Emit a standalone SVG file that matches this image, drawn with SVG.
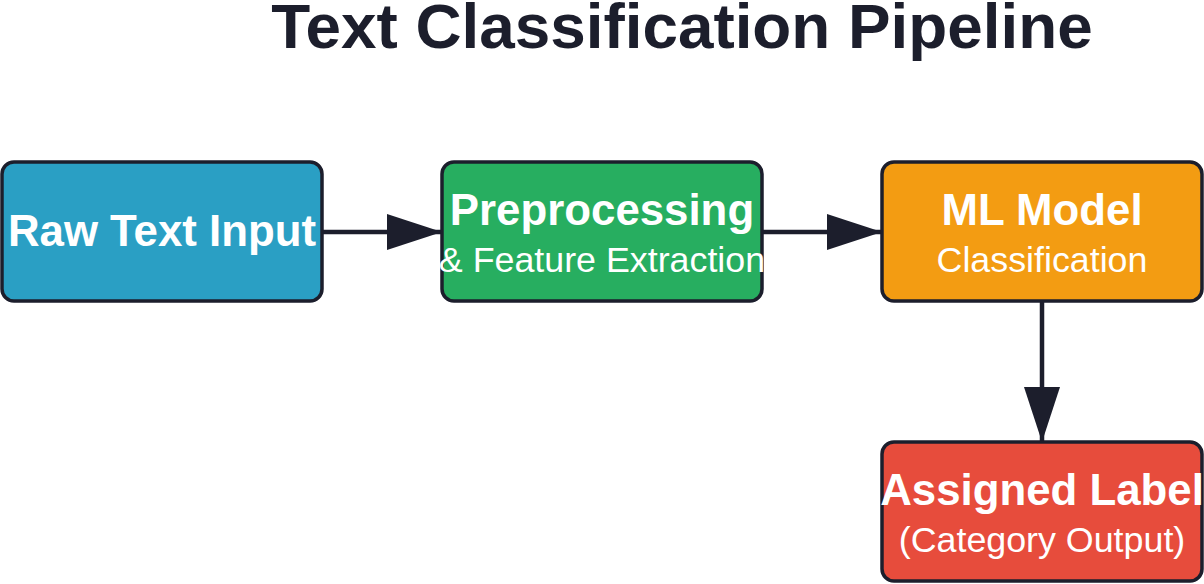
<svg xmlns="http://www.w3.org/2000/svg" width="1204" height="584" viewBox="0 0 1204 584">
<defs>
<style>
.node rect{stroke:#1c1e2c;stroke-width:3.5}
.t{font-family:"Liberation Sans",Arial,sans-serif;fill:#ffffff;text-anchor:middle}
.b{font-weight:bold;font-size:43.8px}
.r{font-size:35.8px}
.edge{stroke:#1c1e2c;stroke-width:4.5;fill:none}
.title{font-family:"Liberation Sans",Arial,sans-serif;font-weight:bold;font-size:63.8px;fill:#1c1e2c;text-anchor:middle}
</style>
<marker id="ah" markerUnits="userSpaceOnUse" markerWidth="56" markerHeight="36" refX="55" refY="18" orient="auto">
<path d="M0,0 L55,18 L0,36 Z" fill="#1c1e2c"/>
</marker>
</defs>
<rect width="1204" height="584" fill="#ffffff"/>
<text class="title" x="682" y="48">Text Classification Pipeline</text>
<g id="connectors">
<line class="edge" x1="322" y1="232" x2="442" y2="232" marker-end="url(#ah)"/>
<line class="edge" x1="762" y1="232" x2="882" y2="232" marker-end="url(#ah)"/>
<line class="edge" x1="1042" y1="301" x2="1042" y2="442" marker-end="url(#ah)"/>
</g>
<g id="raw" class="node">
<rect x="2" y="162" width="320" height="139" rx="12" fill="#2a9fc4"/>
<text class="t b" x="162" y="246">Raw Text Input</text>
</g>
<g id="prep" class="node">
<rect x="442" y="162" width="320" height="139" rx="12" fill="#27ae60"/>
<text class="t b" x="602" y="225">Preprocessing</text>
<text class="t r" x="602" y="272">&amp; Feature Extraction</text>
</g>
<g id="model" class="node">
<rect x="882" y="162" width="320" height="139" rx="12" fill="#f39c12"/>
<text class="t b" x="1042" y="225">ML Model</text>
<text class="t r" x="1042" y="272">Classification</text>
</g>
<g id="label" class="node">
<rect x="882" y="442" width="320" height="139" rx="12" fill="#e74c3c"/>
<text class="t b" x="1042" y="505">Assigned Label</text>
<text class="t r" x="1042" y="552">(Category Output)</text>
</g>
</svg>
